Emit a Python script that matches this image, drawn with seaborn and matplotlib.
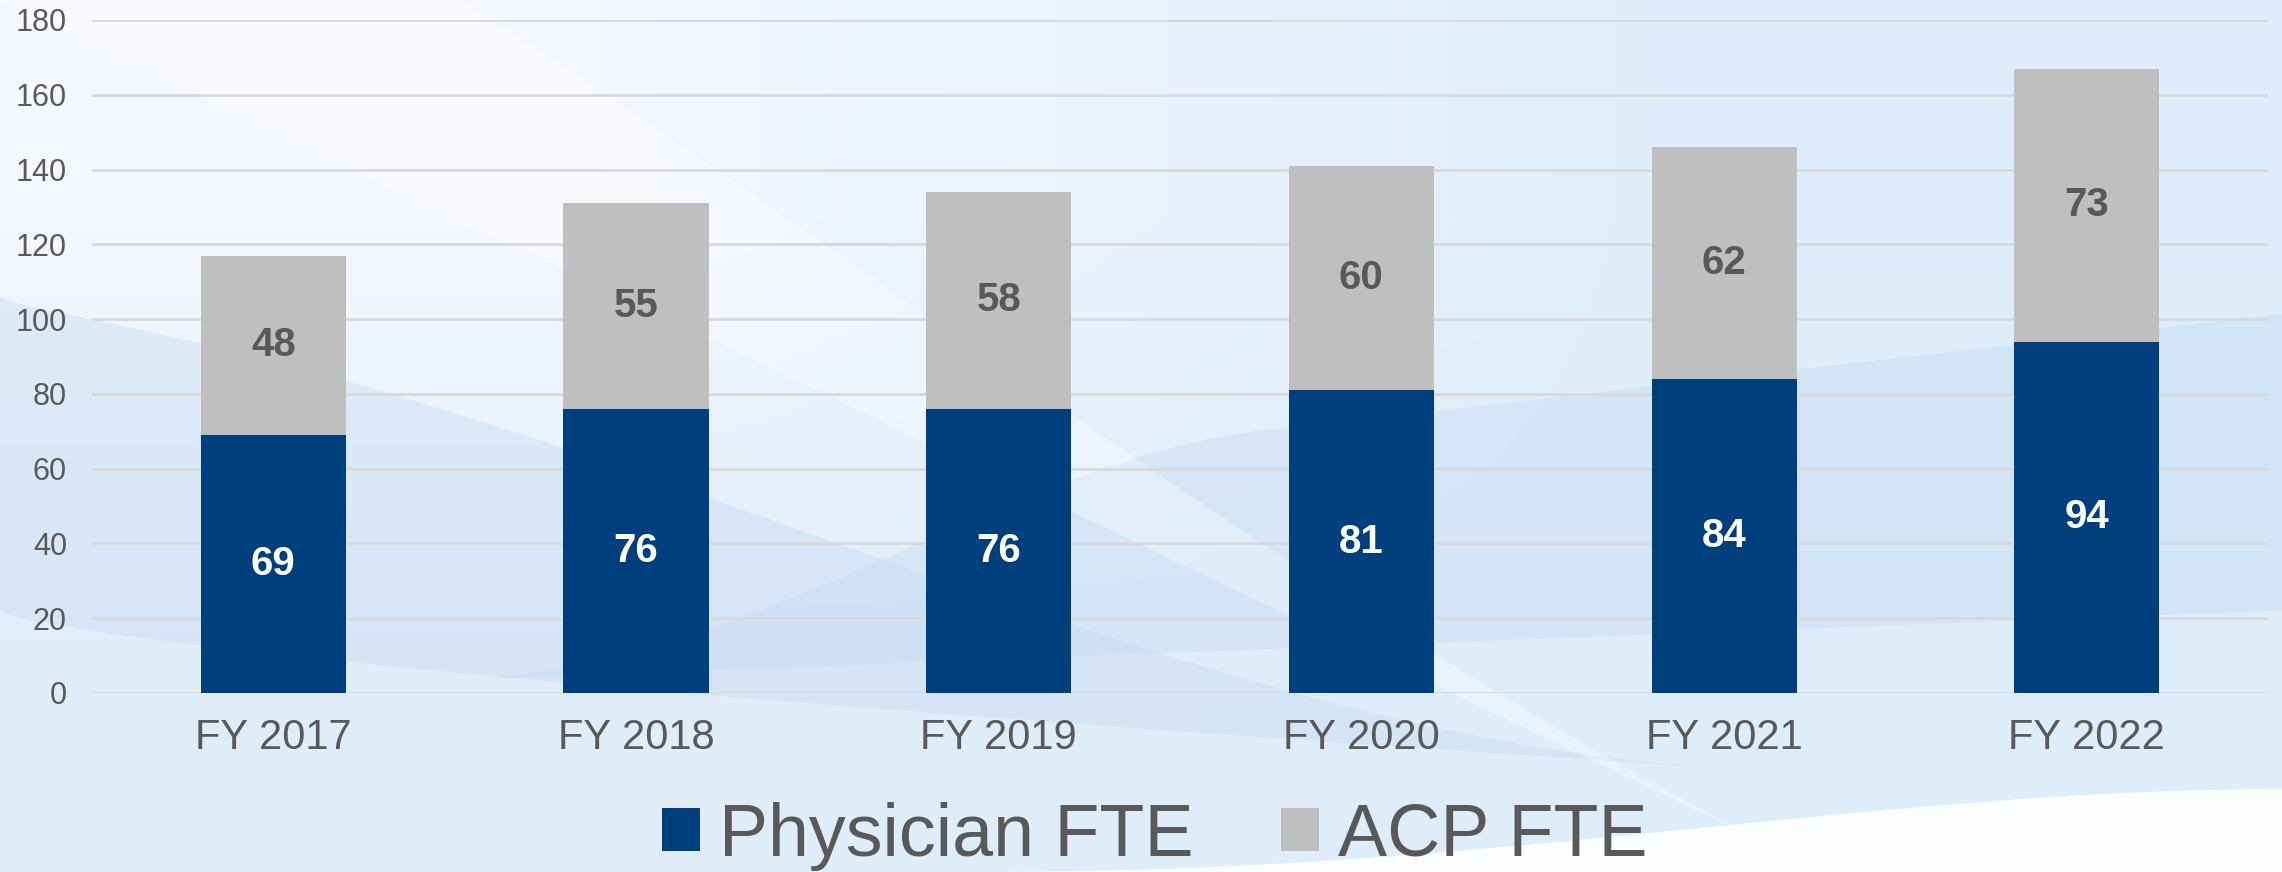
import matplotlib
matplotlib.use("Agg")
import matplotlib.pyplot as plt
import seaborn as sns
import numpy as np
import pandas as pd
from matplotlib.patches import Patch

# data
years = ["FY 2017", "FY 2018", "FY 2019", "FY 2020", "FY 2021", "FY 2022"]
physician_fte = [69, 76, 76, 81, 84, 94]
acp_fte = [48, 55, 58, 60, 62, 73]
y_ticks = [0, 20, 40, 60, 80, 100, 120, 140, 160, 180]

BLUE = "#003F7D"
GRAY = "#BFBFBF"
TEXT = "#595959"

sns.set_style("white")
plt.rcParams["font.family"] = ["Liberation Sans", "DejaVu Sans"]

df = pd.DataFrame({"year": years, "physician": physician_fte, "acp": acp_fte})
df["total"] = df["physician"] + df["acp"]

fig = plt.figure(figsize=(22.82, 8.72), dpi=100)

# background: soft blue gradient with a few swooshes
bg = fig.add_axes([0, 0, 1, 1], zorder=0)
bg.set_xlim(0, 1)
bg.set_ylim(0, 1)
bg.axis("off")
corners = np.array([[[0.96, 0.97, 0.99], [0.87, 0.93, 0.985]],
                    [[0.88, 0.93, 0.98], [0.87, 0.93, 0.98]]])
bg.imshow(corners, extent=[0, 1, 0, 1], aspect="auto", interpolation="bilinear")
xs = np.linspace(0, 1, 400)


def taper(x, start, end):
    t = np.clip((x - start) / (end - start), 0, 1)
    return t * t * (3 - 2 * t)


# blue band sweeping down from the left, thinning out towards the middle
lo = 0.30 - 0.22 * xs ** 0.7
bg.fill_between(xs, lo, lo + 0.36 * (1 - taper(xs, 0.0, 0.75)),
                color="#C9DDF4", alpha=0.45, lw=0)
# bluer area lower middle/right
lo2 = 0.20 + 0.10 * xs
bg.fill_between(xs, lo2, lo2 + (0.14 + 0.2 * xs) * taper(xs, 0.2, 0.55),
                color="#C0D8F2", alpha=0.35, lw=0)
# light diagonal swoosh from the top left
lo3 = np.clip(1.0 - 1.25 * xs, 0, 1)
bg.fill_between(xs, lo3, np.clip(lo3 + 0.3 * (1 - taper(xs, 0.0, 0.8)), 0, 1),
                color="white", alpha=0.3, lw=0)
# white swoosh in the bottom right corner
bg.fill_between(xs, 0, 0.095 * taper(xs, 0.42, 1.0) ** 1.2,
                color="white", alpha=0.9, lw=0)

ax = fig.add_axes([0.0403, 0.2053, 0.9536, 0.7718], zorder=1)
ax.set_facecolor("none")

# stacked bars: total (gray) behind, physician (blue) in front
sns.barplot(data=df, x="year", y="total", color=GRAY, saturation=1,
            width=0.4, linewidth=0, ax=ax)
sns.barplot(data=df, x="year", y="physician", color=BLUE, saturation=1,
            width=0.4, linewidth=0, ax=ax)

for i, (p, a) in enumerate(zip(physician_fte, acp_fte)):
    ax.text(i, p / 2, str(p), ha="center", va="center", color="white",
            fontsize=29, fontweight="bold")
    ax.text(i, p + a / 2, str(a), ha="center", va="center", color=TEXT,
            fontsize=29, fontweight="bold")

ax.set_xlim(-0.5, 5.5)
ax.set_ylim(0, 180)
ax.set_yticks(y_ticks)
ax.yaxis.grid(True, color="#D9D9D9", lw=2)
ax.set_axisbelow(True)
for s in ax.spines.values():
    s.set_visible(False)
ax.set_xlabel("")
ax.set_ylabel("")
ax.tick_params(axis="y", length=0, pad=18, labelsize=22, labelcolor=TEXT)
ax.tick_params(axis="x", length=0, pad=18, labelsize=30, labelcolor=TEXT)

handles = [Patch(facecolor=BLUE, edgecolor="none"), Patch(facecolor=GRAY, edgecolor="none")]
fig.legend(handles, ["Physician FTE", "ACP FTE"], loc="center",
           bbox_to_anchor=(0.506, 0.041), ncol=2, frameon=False, fontsize=53,
           handlelength=0.52, handleheight=0.52, handletextpad=0.26,
           columnspacing=1.18, labelcolor=TEXT, borderpad=0)

fig.savefig("out.png", dpi=100)
